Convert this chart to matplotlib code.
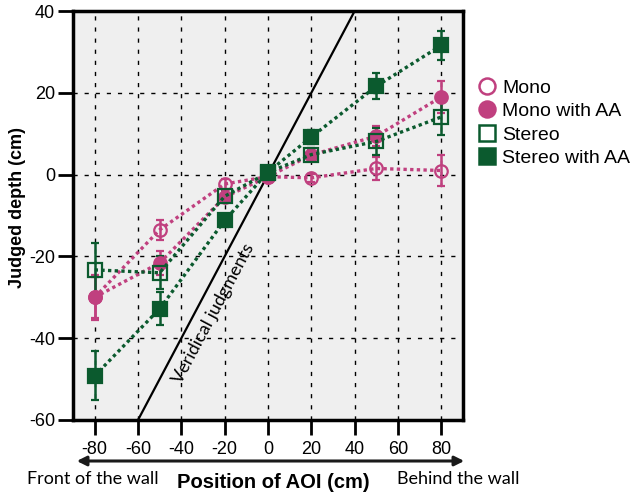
import numpy as np
import matplotlib
matplotlib.use("Agg")
import matplotlib.pyplot as plt
from matplotlib.lines import Line2D
from matplotlib.patches import FancyArrowPatch

plt.rcParams['font.family'] = ['Liberation Sans', 'DejaVu Sans']
plt.rcParams['axes.unicode_minus'] = False

# AOI positions (cm) and judged depth (cm), mean +/- error
positions = [-80, -50, -20, 0, 20, 50, 80]
mono = [-30.0, -13.5, -2.3, -0.5, -0.8, 1.5, 1.0]
mono_err = [5.0, 2.4, 1.2, 1.0, 1.0, 2.8, 3.7]
mono_aa = [-30.0, -21.6, -5.5, -0.5, 4.8, 9.4, 19.0]
mono_aa_err = [5.5, 3.0, 1.5, 1.0, 1.5, 2.5, 4.0]
stereo = [-23.3, -24.0, -5.3, 0.5, 4.9, 8.1, 14.1]
stereo_err = [6.6, 4.0, 1.5, 1.0, 1.5, 3.2, 4.4]
stereo_aa = [-49.2, -32.8, -11.2, 0.6, 9.2, 21.6, 31.6]
stereo_aa_err = [6.0, 4.0, 1.5, 1.0, 1.8, 3.2, 3.6]

labels = ['Mono', 'Mono with AA', 'Stereo', 'Stereo with AA']
xticks = [-80, -60, -40, -20, 0, 20, 40, 60, 80]
yticks = [-60, -40, -20, 0, 20, 40]

pink = '#c0407f'
green = '#0b5a2e'
narrow = ['Lato', 'DejaVu Sans']

fig = plt.figure(figsize=(6.37, 4.92), dpi=100)
ax = fig.add_axes([73/637, 1-420/492, 390/637, 409/492])
ax.set_facecolor('#efefef')

# veridical judgments: y = x
vx = np.array([-90, 90])
ax.plot(vx, vx, color='black', lw=1.6, zorder=2)
ax.text(-25, -34, 'Veridical judgments', rotation=62, rotation_mode='anchor',
        ha='center', va='center', fontsize=13, family=narrow)

series = [
    (mono, mono_err, pink, 'o', 'none'),
    (mono_aa, mono_aa_err, pink, 'o', pink),
    (stereo, stereo_err, green, 's', 'none'),
    (stereo_aa, stereo_aa_err, green, 's', green),
]
for vals, err, col, mk, fc in series:
    ax.errorbar(positions, vals, yerr=err, color=col, ls=(0, (1, 1)), lw=2.4,
                marker=mk, ms=9 if mk == 'o' else 10, mfc=fc, mec=col, mew=1.6,
                elinewidth=1.8, capsize=3, capthick=2, zorder=3)

ax.set_xlim(-90, 90)
ax.set_ylim(-60, 40)
ax.set_xticks(xticks)
ax.set_yticks(yticks)
ax.tick_params(direction='out', length=11, width=2, labelsize=13, pad=2)
ax.tick_params(axis='x', pad=4)
ax.grid(True, color='black', ls=(0, (3, 5)), lw=1)
ax.set_axisbelow(True)
for s in ax.spines.values():
    s.set_linewidth(2.5)

ax.set_ylabel('Judged depth (cm)', fontsize=13, fontweight='bold')
ax.yaxis.set_label_coords(-0.12, 0.52)

handles = [Line2D([], [], ls='none', marker=mk, ms=11.5 if mk == 'o' else 12,
                  mfc=fc, mec=col, mew=1.8)
           for _, _, col, mk, fc in series]
fig.legend(handles, labels, loc='upper left', bbox_to_anchor=(477/637, 1-79/492),
           frameon=False, fontsize=14, handletextpad=0.3, labelspacing=0.3,
           handlelength=1.0, borderaxespad=0, borderpad=0)

# direction arrow under the x axis
fig.add_artist(FancyArrowPatch(
    (74/637, 1-461/492), (467/637, 1-461/492), transform=fig.transFigure,
    arrowstyle='<|-|>', mutation_scale=14, lw=2.2, color='#1a1a1a'))
fig.text(27/637, 1-479/492, 'Front of the wall', fontsize=13,
         family=narrow, va='center', ha='left')
fig.text(397/637, 1-479/492, 'Behind the wall', fontsize=13,
         family=narrow, va='center', ha='left')
fig.text(273/637, 1-482/492, 'Position of AOI (cm)', fontsize=14.5,
         fontweight='bold', va='center', ha='center')

fig.savefig('out.png', dpi=100)
